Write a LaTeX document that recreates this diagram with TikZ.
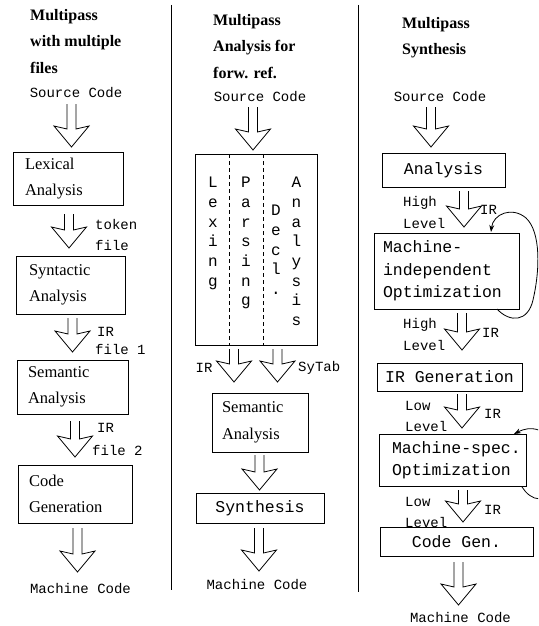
\documentclass[tikz,border=0pt]{standalone}
\usepackage{fontspec}
\setmainfont{Liberation Serif}
\setmonofont{Liberation Mono}
\usetikzlibrary{arrows.meta}
\newcommand{\serifboxfont}{\rmfamily\fontsize{16.5}{26}\selectfont}
\newcommand{\titlefont}{\rmfamily\bfseries\fontsize{16}{26.5}\selectfont}
\newcommand{\monolabfont}{\ttfamily\fontsize{14}{17}\selectfont}
\newcommand{\monoboxfont}{\ttfamily\fontsize{16.5}{22.5}\selectfont}
\newcommand{\vertfont}{\ttfamily\fontsize{16}{19.7}\selectfont}
\newcommand{\fatarrow}[3]{%
  \draw[fatline] (#1-4.5,#2) -- (#1-4.5,#3-18) -- (#1-17.5,#3-21) -- (#1,#3)
    -- (#1+17.5,#3-21) -- (#1+4.5,#3-18) -- (#1+4.5,#2);}
\tikzset{
  fatline/.style={line width=0.8pt, line join=miter},
  pbox/.style={draw, line width=0.8pt, inner ysep=0pt},
  sbox/.style={pbox, font=\serifboxfont, align=left},
  mbox/.style={pbox, font=\monoboxfont},
  lab/.style={font=\monolabfont, inner sep=0pt},
  ttl/.style={font=\titlefont, inner sep=0pt, anchor=north west, align=left},
  vcol/.style={font=\vertfont, inner sep=0pt, anchor=north, align=center},
  loop/.style={line width=0.8pt, -{Stealth[length=7pt,width=5pt]}}
}
\begin{document}
\begin{tikzpicture}[x=1pt,y=-1pt]
\clip (0,0) rectangle (538,626);
\fill[white] (0,0) rectangle (538,626);

% dividers
\draw[line width=0.8pt] (171,5) coordinate (d1t) -- (171,590) coordinate (d1b);
\draw[line width=0.8pt] (358.5,5) coordinate (d2t) -- (358.5,592) coordinate (d2b);

% ---------------- column 1 ----------------
\node[ttl] (t1) at (30,9) {Multipass\\with multiple\\files};
\node[lab] (src1) at (76,93) {Source Code};
\fatarrow{71.5}{104}{147}
\node[sbox, minimum width=110pt, minimum height=53pt, text width=86pt, inner xsep=12pt] (lex) at (68,178.5) {Lexical\\Analysis};
\fatarrow{69}{214}{248}
\node[lab, anchor=west] (tok1) at (95,224) {token};
\node[lab, anchor=west] (tok2) at (95,245) {file};
\node[sbox, minimum width=109pt, minimum height=58pt, text width=83pt, inner xsep=13pt] (syn) at (70.5,285) {Syntactic\\Analysis};
\fatarrow{72.5}{318}{352}
\node[lab, anchor=west] (ir1a) at (97,332) {IR};
\node[lab, anchor=west] (ir1b) at (95,349) {file 1};
\node[sbox, minimum width=111pt, minimum height=54pt, text width=89pt, inner xsep=11pt] (sem1) at (72.5,387) {Semantic\\Analysis};
\fatarrow{75}{421}{457}
\node[lab, anchor=west] (ir2a) at (97,428) {IR};
\node[lab, anchor=west] (ir2b) at (92,450) {file 2};
\node[sbox, minimum width=114pt, minimum height=58pt, text width=92pt, inner xsep=11pt] (cg1) at (75,494) {Code\\Generation};
\fatarrow{77.5}{528}{572}
\node[lab] (mc1) at (80.5,589) {Machine Code};

% ---------------- column 2 ----------------
\node[ttl] (t2) at (213,14) {Multipass\\Analysis for\\forw. ref.};
\node[lab] (src2) at (260,97) {Source Code};
\fatarrow{253}{107}{150}
\node[pbox, minimum width=122pt, minimum height=191pt] (big) at (256,249.5) {};
\draw[line width=0.8pt, dash pattern=on 4pt off 3pt] (229,154) coordinate (dA) -- (229,345) coordinate (dB);
\draw[line width=0.8pt, dash pattern=on 4pt off 3pt] (263,154) coordinate (dC) -- (263,345) coordinate (dD);
\node[vcol] (vlex) at (213,177) {L\\e\\x\\i\\n\\g};
\node[vcol] (vpar) at (246,177) {P\\a\\r\\s\\i\\n\\g};
\node[vcol] (vdec) at (276,205) {D\\e\\c\\l\\.};
\node[vcol] (vana) at (296.5,177) {A\\n\\a\\l\\y\\s\\i\\s};
\fatarrow{234}{349}{382}
\fatarrow{277.5}{349}{382}
\node[lab] (irL) at (204,368) {IR};
\node[lab, anchor=west] (sytab) at (298,368) {SyTab};
\node[sbox, minimum width=96pt, minimum height=59pt, text width=76pt, inner xsep=10pt, font=\rmfamily\fontsize{16.5}{27}\selectfont] (sem2) at (260,422.5) {Semantic\\Analysis};
\fatarrow{259.5}{455}{490}
\node[mbox, minimum width=128pt, minimum height=30pt] (synth) at (260,508) {Synthesis};
\fatarrow{259}{528}{571}
\node[lab] (mc2) at (257,585) {Machine Code};

% ---------------- column 3 ----------------
\node[ttl] (t3) at (402,17) {Multipass\\Synthesis};
\node[lab] (src3) at (440,97) {Source Code};
\fatarrow{431}{107}{147}
\node[mbox, minimum width=123pt, minimum height=34pt] (ana) at (443.5,170) {Analysis};
\fatarrow{464}{191}{227}
\node[lab, anchor=west] (hl1a) at (403,203) {High};
\node[lab, anchor=west] (hl1b) at (403,223) {Level};
\node[lab, anchor=west] (ir3a) at (480,210) {IR};
\node[mbox, align=left, minimum width=145pt, minimum height=76pt, text width=127pt, inner xsep=9pt] (mi) at (446.5,271) {Machine-\\independent\\Optimization};
\draw[loop] (497,309) .. controls (510,323) and (528,322) .. (533,300)
  .. controls (540,270) and (541,232) .. (526,218)
  .. controls (512,206) and (493,214) .. (491,232);
\fatarrow{462}{313}{350}
\node[lab, anchor=west] (hl2a) at (403,325) {High};
\node[lab, anchor=west] (hl2b) at (403,345) {Level};
\node[lab, anchor=west] (ir3b) at (482,333) {IR};
\node[mbox, minimum width=145pt, minimum height=28pt] (irg) at (449.5,377) {IR Generation};
\fatarrow{462}{394}{428}
\node[lab, anchor=west] (ll1a) at (405,406) {Low};
\node[lab, anchor=west] (ll1b) at (405,426) {Level};
\node[lab, anchor=west] (ir3c) at (484,414) {IR};
\node[mbox, align=left, minimum width=147pt, minimum height=52pt, text width=121pt, inner xsep=13pt, font=\ttfamily\fontsize{16.5}{22}\selectfont] (ms) at (452.5,460) {Machine-spec.\\Optimization};
\draw[loop] (522,487) .. controls (530,500) and (548,508) .. (558,480)
  .. controls (565,450) and (545,418) .. (514,434);
\fatarrow{463}{490}{522}
\node[lab, anchor=west] (ll2a) at (405,502) {Low};
\node[lab, anchor=west] (ll2b) at (405,522) {Level};
\node[lab, anchor=west] (ir3d) at (484,510) {IR};
\node[mbox, minimum width=153pt, minimum height=29pt] (cg3) at (456.5,542) {Code Gen.};
\fatarrow{458.5}{562}{605}
\node[lab] (mc3) at (460.5,618) {Machine Code};
\end{tikzpicture}
\end{document}
